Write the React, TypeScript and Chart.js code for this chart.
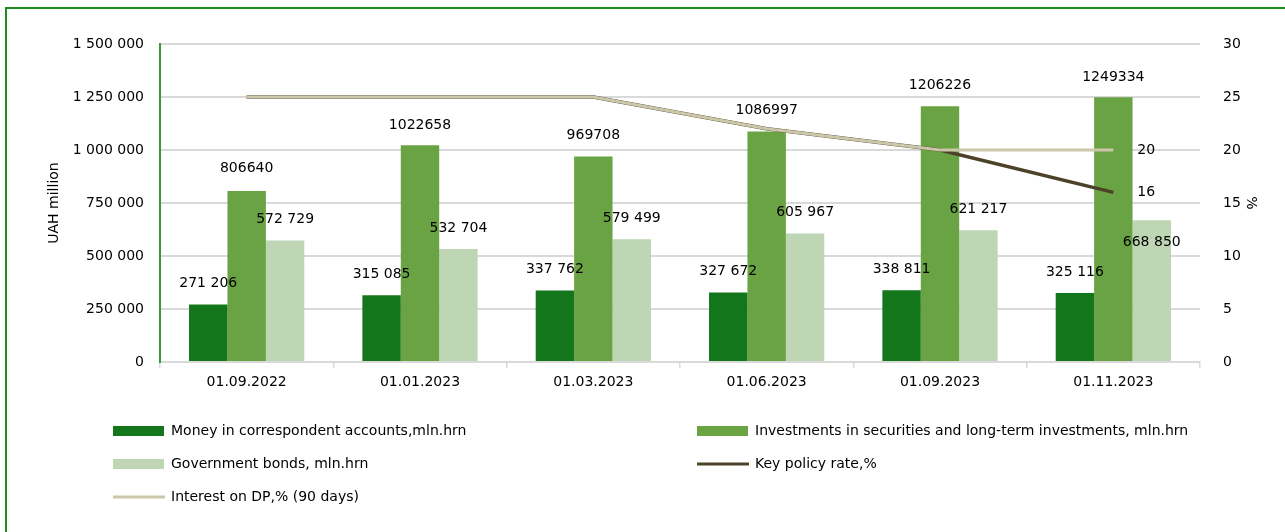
import React, { useEffect, useRef } from "react";
import { Chart, registerables } from "chart.js";

Chart.register(...registerables);

const categories = ["01.09.2022", "01.01.2023", "01.03.2023", "01.06.2023", "01.09.2023", "01.11.2023"];
const moneyValues = [271206, 315085, 337762, 327672, 338811, 325116];
const investmentValues = [806640, 1022658, 969708, 1086997, 1206226, 1249334];
const bondValues = [572729, 532704, 579499, 605967, 621217, 668850];
const keyRateValues = [25, 25, 25, 22, 20, 16];
const dpRateValues = [25, 25, 25, 22, 20, 20];

const seriesNames = [
  "Money in correspondent accounts,mln.hrn",
  "Investments in securities and long-term investments, mln.hrn",
  "Government bonds, mln.hrn",
  "Key policy rate,%",
  "Interest on DP,% (90 days)",
];

// label placement (pixels above bar top), per bar series
const labelLift = [
  [21, 21, 21, 21, 21, 21],
  [23, 20, 21, 21, 21, 20],
  [21, 21, 21, 21, 21, -22],
];

const FONT = "'DejaVu Sans', sans-serif";
const COLORS = ["#14761A", "#6AA343", "#BED6B3", "#4B4229", "#CCC7A9"];

const spaced = (v: number) => String(v).replace(/\B(?=(\d{3})+(?!\d))/g, " ");

const legendLayout = [
  { ds: 0, col: 0, row: 0 },
  { ds: 1, col: 1, row: 0 },
  { ds: 2, col: 0, row: 1 },
  { ds: 3, col: 1, row: 1 },
  { ds: 4, col: 0, row: 2 },
];
const legendCols = [113, 697];
const legendRows = [431, 464, 497];

const decorPlugin = {
  id: "decor",
  beforeDraw(chart: any) {
    const ctx = chart.ctx;
    ctx.save();
    ctx.fillStyle = "#fff";
    ctx.fillRect(0, 0, chart.width, chart.height);
    ctx.strokeStyle = "#1E8B1E";
    ctx.lineWidth = 2;
    ctx.strokeRect(6, 8, chart.width + 40, chart.height + 40);
    ctx.restore();
  },
  afterDatasetsDraw(chart: any) {
    const ctx = chart.ctx;
    ctx.save();
    ctx.font = `14px ${FONT}`;
    ctx.fillStyle = "#000";
    ctx.textAlign = "center";
    ctx.textBaseline = "middle";
    for (let d = 0; d < 3; d++) {
      const meta = chart.getDatasetMeta(d);
      const vals = chart.data.datasets[d].data as number[];
      meta.data.forEach((el: any, i: number) => {
        const txt = d === 1 ? String(vals[i]) : spaced(vals[i]);
        ctx.fillText(txt, el.x, el.y - labelLift[d][i]);
      });
    }
    ctx.textAlign = "left";
    for (let d = 3; d < 5; d++) {
      const meta = chart.getDatasetMeta(d);
      const vals = chart.data.datasets[d].data as number[];
      const last = meta.data.length - 1;
      const el = meta.data[last];
      ctx.fillText(String(vals[last]), el.x + 24, el.y);
    }
    ctx.restore();
  },
  afterDraw(chart: any) {
    const ctx = chart.ctx;
    ctx.save();
    ctx.font = `14px ${FONT}`;
    ctx.fillStyle = "#000";
    ctx.textBaseline = "middle";
    ctx.textAlign = "left";
    legendLayout.forEach((it) => {
      const x = legendCols[it.col];
      const y = legendRows[it.row];
      const ds = chart.data.datasets[it.ds];
      if (ds.type === "line") {
        ctx.strokeStyle = ds.borderColor;
        ctx.lineWidth = 3;
        ctx.beginPath();
        ctx.moveTo(x, y);
        ctx.lineTo(x + 52, y);
        ctx.stroke();
      } else {
        ctx.fillStyle = ds.backgroundColor;
        ctx.fillRect(x, y - 5, 51, 10);
      }
      ctx.fillStyle = "#000";
      ctx.fillText(ds.label, x + 58, y);
    });
    ctx.restore();
  },
};

export default function App() {
  const ref = useRef<HTMLCanvasElement>(null);
  useEffect(() => {
    if (!ref.current) return;
    Chart.defaults.color = "#000";
    Chart.defaults.font.family = FONT;
    Chart.defaults.font.size = 14;
    const chart = new Chart(ref.current, {
      type: "bar",
      data: {
        labels: categories,
        datasets: [
          { type: "bar", label: seriesNames[0], data: moneyValues, backgroundColor: COLORS[0], yAxisID: "y", order: 2 },
          { type: "bar", label: seriesNames[1], data: investmentValues, backgroundColor: COLORS[1], yAxisID: "y", order: 2 },
          { type: "bar", label: seriesNames[2], data: bondValues, backgroundColor: COLORS[2], yAxisID: "y", order: 2 },
          {
            type: "line", label: seriesNames[3], data: keyRateValues, borderColor: COLORS[3], backgroundColor: COLORS[3],
            borderWidth: 3.5, pointRadius: 0, tension: 0, yAxisID: "y1", order: 1,
          },
          {
            type: "line", label: seriesNames[4], data: dpRateValues, borderColor: COLORS[4], backgroundColor: COLORS[4],
            borderWidth: 3, pointRadius: 0, tension: 0, yAxisID: "y1", order: 0,
          },
        ] as any,
      },
      options: {
        responsive: false,
        animation: false,
        layout: { padding: { left: 42, right: 22, top: 44, bottom: 140 } },
        datasets: { bar: { categoryPercentage: 0.665, barPercentage: 1 } } as any,
        plugins: { legend: { display: false }, tooltip: { enabled: false } },
        scales: {
          x: {
            grid: { display: true, drawOnChartArea: false, drawTicks: true, tickLength: 6, color: "#D9D9D9", lineWidth: 1.5 },
            border: { display: true, color: "#D9D9D9", width: 2 },
            ticks: { padding: 6, font: { size: 14, family: FONT }, color: "#000", maxRotation: 0 },
            afterFit: (s: any) => { s.height = 30; },
          },
          y: {
            position: "left",
            min: 0,
            max: 1500000,
            ticks: { stepSize: 250000, padding: 16, callback: (v: any) => spaced(Number(v)), font: { size: 14, family: FONT }, color: "#000" },
            grid: { color: "#D9D9D9", lineWidth: 2, drawTicks: false },
            border: { display: true, color: "#3A9A3A", width: 2 },
            title: { display: true, text: "UAH million", font: { size: 14, family: FONT }, color: "#000" },
            afterFit: (s: any) => { s.width = 118; },
          },
          y1: {
            position: "right",
            min: 0,
            max: 30,
            ticks: { stepSize: 5, padding: 15, font: { size: 14, family: FONT }, color: "#000" },
            grid: { display: false },
            border: { display: false },
            title: { display: true, text: "%", font: { size: 14, family: FONT }, color: "#000" },
            afterFit: (s: any) => { s.width = 63; },
          },
        },
      },
      plugins: [decorPlugin],
    });
    return () => chart.destroy();
  }, []);
  return (
    <div style={{ position: "fixed", left: 0, top: 0, width: 1285, height: 532, overflow: "hidden" }}>
      <canvas ref={ref} width={1285} height={532} style={{ display: "block" }} />
    </div>
  );
}
